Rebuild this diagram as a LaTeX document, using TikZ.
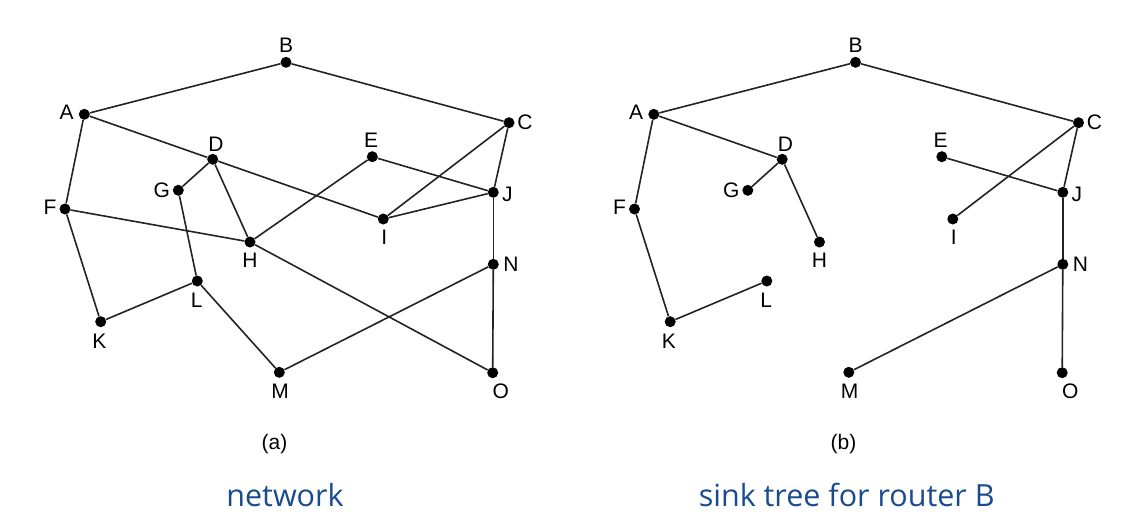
\documentclass[tikz,border=0pt]{standalone}
\usepackage{fontspec}
\setmainfont{Liberation Sans}
\newfontfamily\capfont{Open Sans}
\usetikzlibrary{calc}
\definecolor{capblue}{RGB}{26,75,142}
\definecolor{edgegray}{RGB}{35,35,35}
\tikzset{
  dot/.style={circle,fill=black,inner sep=0pt,minimum size=11pt},
  lab/.style={inner sep=0pt,font=\fontsize{21}{25}\selectfont},
  link/.style={draw=edgegray,line width=1.6pt},
  subcap/.style={inner sep=0pt,anchor=base,font=\fontsize{21}{25}\selectfont},
  bluecap/.style={inner sep=0pt,anchor=base,text=capblue,font=\capfont\fontsize{30.5}{36}\selectfont}
}
\newcommand\rtr[6]{%
  \node[dot] (#1) at (#2,#3) {};
  \node[lab] (#1l) at ($(#1)+(#5,#6)$) {#4};}
\newcommand\placerouters[1]{%
  \rtr{#1A}{84.3}{114.3}{A}{-17.6}{-1.6}
  \rtr{#1B}{286}{62.3}{B}{0}{-17}
  \rtr{#1C}{509}{122.7}{C}{16}{0}
  \rtr{#1D}{212.7}{159.3}{D}{3.3}{-15.3}
  \rtr{#1E}{372.3}{156.7}{E}{-1.3}{-16}
  \rtr{#1F}{65}{209}{F}{-15}{-1.3}
  \rtr{#1G}{178.3}{190.3}{G}{-16.6}{-0.3}
  \rtr{#1H}{250}{242}{H}{0}{18}
  \rtr{#1I}{383.3}{219}{I}{1}{18.7}
  \rtr{#1J}{493.3}{192.3}{J}{14}{2}
  \rtr{#1K}{100.7}{321.7}{K}{-1.4}{20}
  \rtr{#1L}{197.3}{281}{L}{-0.6}{19}
  \rtr{#1M}{279.3}{372.3}{M}{0.7}{19.4}
  \rtr{#1N}{493.3}{264.3}{N}{17.7}{0}
  \rtr{#1O}{492.7}{372.7}{O}{8}{19}
}
\begin{document}
\begin{tikzpicture}[x=1pt,y=-1pt]
\useasboundingbox[fill=white] (0,0) rectangle (1134,528);
% (a) network
\placerouters{a}
\foreach \u/\v in {A/B,B/C,A/F,A/D,D/I,D/G,D/H,G/L,E/H,E/J,F/H,F/K,K/L,L/M,M/N,N/O,H/O,C/I,C/J,I/J,J/N}
  \path[link] (a\u) -- (a\v);
% (b) sink tree
\begin{scope}[xshift=569.5pt]
\placerouters{b}
\end{scope}
\foreach \u/\v in {A/B,B/C,A/D,A/F,D/G,D/H,F/K,K/L,C/I,C/J,E/J,J/N,N/M,N/O}
  \path[link] (b\u) -- (b\v);
\node[subcap] (suba) at (274.5,449.5) {(a)};
\node[subcap] (subb) at (843.5,449.5) {(b)};
\node[bluecap] (capa) at (285,506) {network};
\node[bluecap] (capb) at (846.7,506) {sink tree for router B};
\end{tikzpicture}
\end{document}
